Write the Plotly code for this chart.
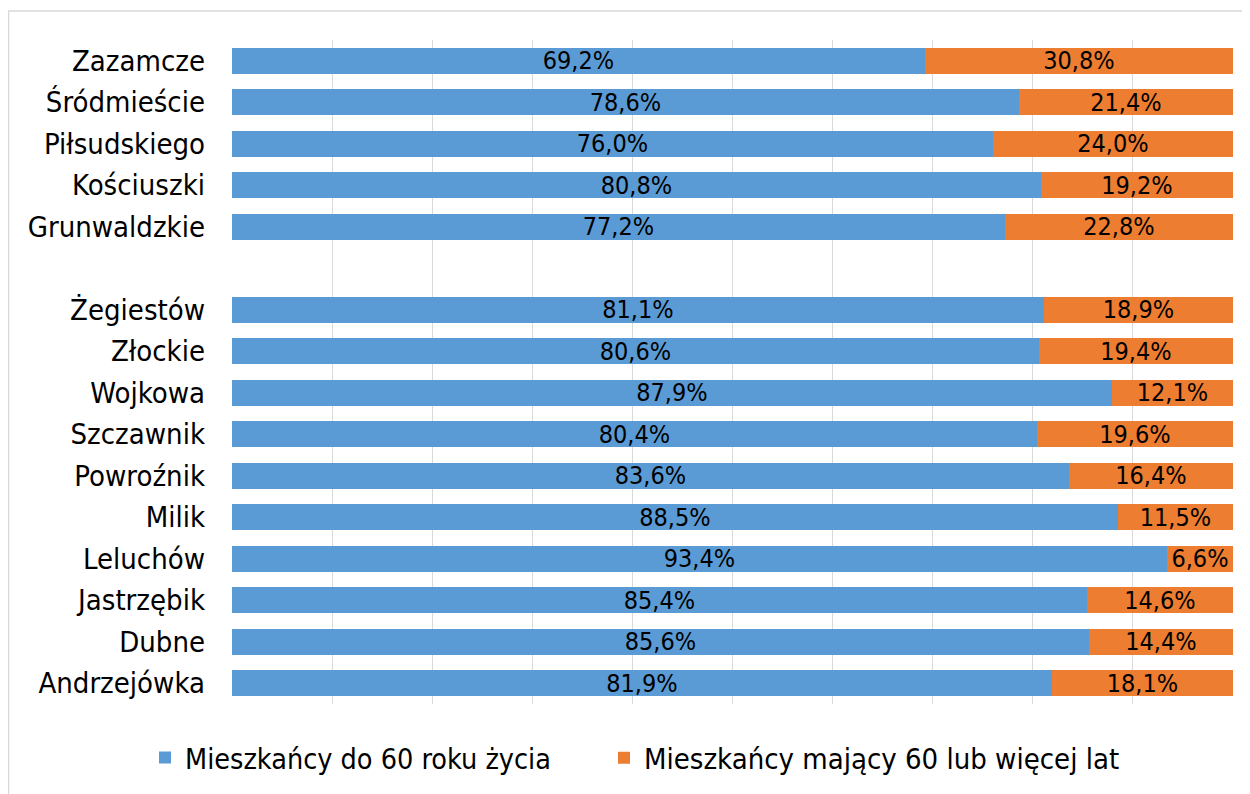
import plotly.graph_objects as go

categories = ["Zazamcze", "Śródmieście", "Piłsudskiego", "Kościuszki", "Grunwaldzkie", " ",
              "Żegiestów", "Złockie", "Wojkowa", "Szczawnik", "Powroźnik", "Milik",
              "Leluchów", "Jastrzębik", "Dubne", "Andrzejówka"]
under60 = [69.2, 78.6, 76.0, 80.8, 77.2, None,
           81.1, 80.6, 87.9, 80.4, 83.6, 88.5, 93.4, 85.4, 85.6, 81.9]
over60 = [30.8, 21.4, 24.0, 19.2, 22.8, None,
          18.9, 19.4, 12.1, 19.6, 16.4, 11.5, 6.6, 14.6, 14.4, 18.1]
series_names = ["Mieszkańcy do 60 roku życia", "Mieszkańcy mający 60 lub więcej lat"]
colors = ["#5B9BD5", "#ED7D31"]

FONT = "DejaVu Sans Condensed"
W, H = 1242, 786
L, R, T, B = 224, 17, 32, 89
PW, PH = W - L - R, H - T - B

fig = go.Figure()
for i, (name, vals, col) in enumerate(zip(series_names, [under60, over60], colors)):
    fig.add_trace(go.Bar(
        y=categories, x=vals, name=name, orientation="h",
        marker=dict(color=col, line=dict(width=0)),
        texttemplate="%{x:.1f}%", textposition="inside", insidetextanchor="middle",
        constraintext="none",
        textfont=dict(family=FONT, size=25, color="black"),
        hoverinfo="skip",
        legend="legend" if i == 0 else "legend2",
    ))

leg_y = -(750 - (T + PH)) / PH
leg_common = dict(orientation="h", yanchor="middle", y=leg_y,
                  xanchor="left", itemwidth=30, bgcolor="rgba(0,0,0,0)", borderwidth=0)
fig.update_layout(
    barmode="stack", bargap=0.37,
    separators=", ",
    width=W, height=H,
    margin=dict(l=L, r=R, t=T, b=B),
    paper_bgcolor="white", plot_bgcolor="white",
    font=dict(family=FONT, size=29, color="black"),
    showlegend=True,
    legend=dict(leg_common, x=(137 - L) / PW,
                font=dict(family=FONT, size=28.5, color="black")),
    legend2=dict(leg_common, x=(596 - L) / PW,
                 font=dict(family=FONT, size=29, color="black")),
    xaxis=dict(range=[0, 100], dtick=10, showgrid=True, gridcolor="#D9D9D9", gridwidth=1,
               showticklabels=False, zeroline=False, showline=False, ticks=""),
    yaxis=dict(categoryorder="array", categoryarray=categories, autorange="reversed",
               showgrid=False, ticks="", ticklabelstandoff=26,
               tickfont=dict(family=FONT, size=29)),
    shapes=[dict(type="rect", xref="paper", yref="paper",
                 x0=(0.5 - L) / PW, x1=(W + 20 - L) / PW,
                 y0=-(H + 20 - T - PH) / PH, y1=(T + PH - 3) / PH,
                 line=dict(color="#D9D9D9", width=1.5), fillcolor="rgba(0,0,0,0)")],
)

fig.write_html("out.html")
